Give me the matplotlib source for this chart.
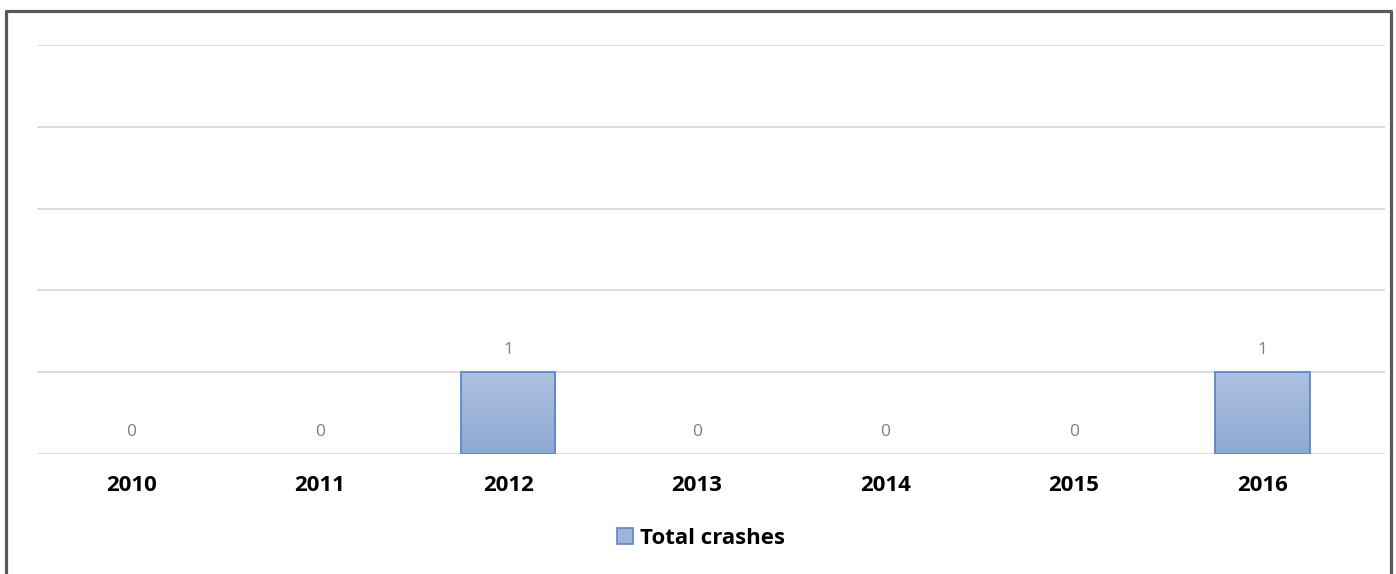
import numpy as np
import matplotlib.pyplot as plt
from matplotlib.patches import Rectangle
from matplotlib.lines import Line2D
from matplotlib.colors import LinearSegmentedColormap

years = ['2010', '2011', '2012', '2013', '2014', '2015', '2016']
crashes = [0, 0, 1, 0, 0, 0, 1]
series_name = 'Total crashes'

W, H = 1396, 574
fig = plt.figure(figsize=(W / 100, H / 100), dpi=100)
ax = fig.add_axes([37 / W, 1 - 454 / H, (1385 - 37) / W, (454 - 45) / H])

x = np.arange(len(years))
bar_w = 0.5
edge = '#5b87c6'
grad = LinearSegmentedColormap.from_list('g', ['#8ea9d3', '#adc0de'])

edges = [edge if v > 0 else 'none' for v in crashes]
bars = ax.bar(x, crashes, width=bar_w, color='none', edgecolor=edges, linewidth=1.3, zorder=3)
for b in bars:
    if b.get_height() <= 0:
        continue
    x0, y0 = b.get_x(), b.get_y()
    im = ax.imshow(np.linspace(0, 1, 100).reshape(-1, 1), cmap=grad, origin='lower',
                   extent=(x0, x0 + b.get_width(), y0, y0 + b.get_height()),
                   aspect='auto', zorder=2)
    im.set_clip_path(b)

for xi, v in zip(x, crashes):
    ax.text(xi, v + 0.27, str(v), ha='center', va='center', fontsize=12.5,
            family='Open Sans', color='#808080')

ax.set_xlim(-0.5, 6.65)
ax.set_ylim(0, 5)
ax.set_yticks(np.arange(0, 6))
ax.grid(axis='y', color='#d9d9d9', linewidth=1.3, zorder=0)
ax.tick_params(axis='y', left=False, labelleft=False)
ax.tick_params(axis='x', length=0, pad=15)
ax.set_xticks(x)
ax.set_xticklabels(years, fontsize=16, fontweight='bold', family='Open Sans')
for s in ax.spines.values():
    s.set_visible(False)

handle = Rectangle((0, 0), 1, 1, facecolor='#9db3d8', edgecolor=edge, linewidth=1.2)
fig.legend([handle], [series_name], loc='center', bbox_to_anchor=(701 / W, 1 - 538 / H),
           frameon=False, prop={'family': 'Open Sans', 'weight': 'bold', 'size': 16},
           handlelength=0.7, handleheight=0.7, handletextpad=0.3)

# outer frame (left, top, right)
fx = [5.5 / W, 5.5 / W, 1390.5 / W, 1390.5 / W]
fy = [-0.05, 1 - 10.5 / H, 1 - 10.5 / H, -0.05]
fig.add_artist(Line2D(fx, fy, color='#595959', linewidth=2.3, transform=fig.transFigure))

fig.savefig('out.png', dpi=100)
